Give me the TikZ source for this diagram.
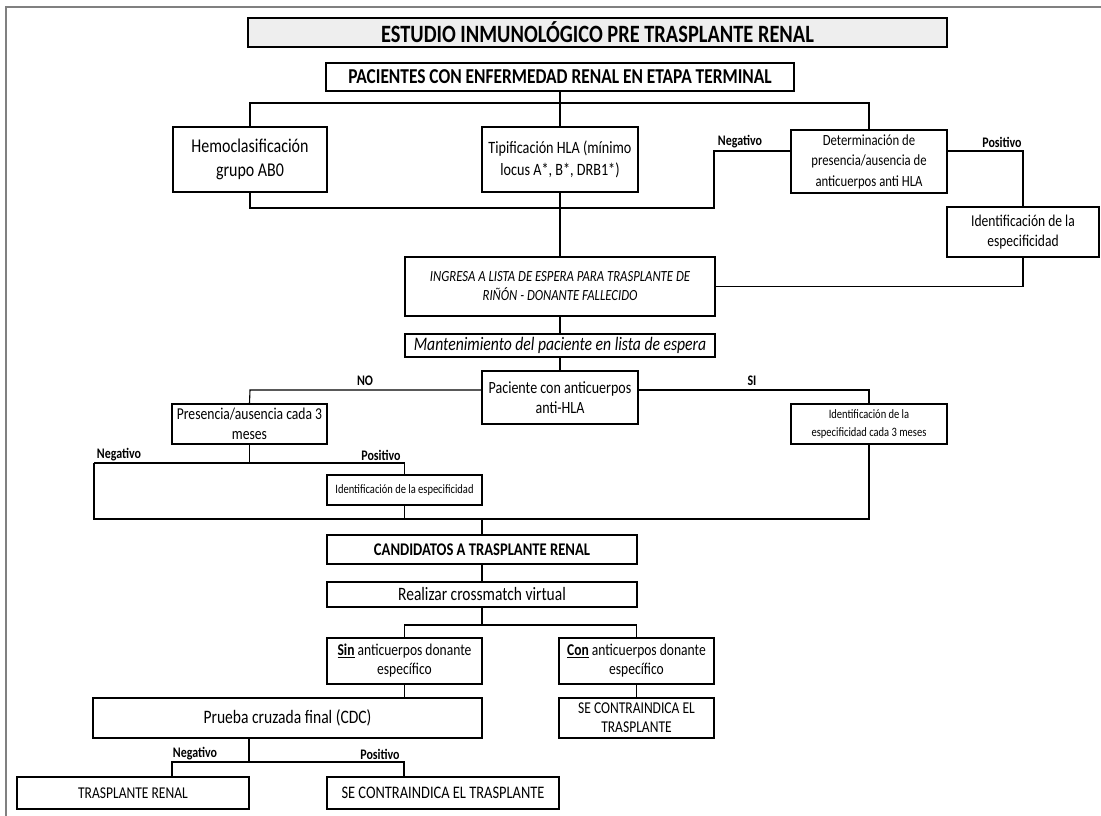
\documentclass[tikz,border=0pt]{standalone}
\usepackage{fontspec}
\setmainfont[FakeStretch=0.82]{Carlito}
\tikzset{
  box/.style={draw=black, line width=1.1pt, inner sep=0pt, align=center},
  conn/.style={draw=black, line width=1.1pt},
  lab/.style={font=\bfseries\fontsize{14.6}{16}\selectfont, inner sep=0pt},
}
\newcommand\bx[7][]{%
  \node[box,#1,minimum width={(#5-#3)*1pt},minimum height={(#6-#4)*1pt}] (#2) at ({(#3+#5)/2},{(#4+#6)/2}) {#7};}
\begin{document}
\begin{tikzpicture}[x=1pt,y=-1pt]
\useasboundingbox (0,0) rectangle (1101,816);
% frame
\draw[gray, line width=2pt] (6,830) -- (6,7) -- (1110,7);
% boxes
\bx[fill=gray!13, line width=2.6pt, font=\bfseries\fontsize{24.9}{28}\selectfont]{title}{248}{18}{947}{47}{ESTUDIO INMUNOLÓGICO PRE TRASPLANTE RENAL}
\bx[font=\bfseries\fontsize{21.2}{24}\selectfont]{pac}{326}{63}{794}{91}{PACIENTES CON ENFERMEDAD RENAL EN ETAPA TERMINAL}
\bx[font=\fontsize{19.5}{24}\selectfont]{hemo}{173}{127}{327}{192}{Hemoclasificación\\grupo AB0}
\bx[font=\fontsize{17.3}{22}\selectfont]{tip}{482}{127}{638}{192}{Tipificación HLA (mínimo\\locus A*, B*, DRB1*)}
\bx[font=\fontsize{15.5}{20.5}\selectfont]{det}{791}{130}{947}{193}{Determinación de\\presencia/ausencia de\\anticuerpos anti HLA}
\bx[font=\fontsize{16.5}{20}\selectfont]{ide1}{947}{207}{1099}{257}{Identificación de la\\especificidad}
\bx[font=\itshape\fontsize{15.5}{19}\selectfont]{ing}{405}{257}{715}{316}{INGRESA A LISTA DE ESPERA PARA TRASPLANTE DE\\RIÑÓN - DONANTE FALLECIDO}
\bx[font=\itshape\fontsize{19.1}{22}\selectfont]{man}{405}{334}{715}{357}{Mantenimiento del paciente en lista de espera}
\bx[font=\fontsize{17.1}{20}\selectfont]{pca}{482}{371}{638}{424}{Paciente con anticuerpos\\anti-HLA}
\bx[font=\fontsize{16.6}{20}\selectfont]{pres}{172}{404}{327}{444}{Presencia/ausencia cada 3\\meses}
\bx[font=\fontsize{12.8}{18}\selectfont]{ide2}{791}{404}{947}{444}{Identificación de la\\especificidad cada 3 meses}
\bx[font=\fontsize{12.8}{14}\selectfont]{ide3}{327}{475}{482}{505}{Identificación de la especificidad}
\bx[font=\bfseries\fontsize{17.8}{20}\selectfont]{cand}{327}{535}{637}{564}{CANDIDATOS A TRASPLANTE RENAL}
\bx[font=\fontsize{18.9}{21}\selectfont]{real}{327}{582}{637}{607}{Realizar crossmatch virtual}
\bx[font=\fontsize{16.5}{19}\selectfont]{sin}{327}{638}{482}{684}{\underline{\textbf{Sin}} anticuerpos donante\\específico}
\bx[font=\fontsize{16.5}{19}\selectfont]{con}{559}{638}{714}{684}{\underline{\textbf{Con}} anticuerpos donante\\específico}
\bx[font=\fontsize{19}{22}\selectfont]{prue}{93}{698}{482}{738}{Prueba cruzada final (CDC)}
\bx[font=\fontsize{16.5}{19}\selectfont]{contra1}{559}{698}{714}{738}{SE CONTRAINDICA EL\\TRASPLANTE}
\bx[font=\fontsize{16.5}{19}\selectfont]{tr}{17}{777}{249}{809}{TRASPLANTE RENAL}
\bx[font=\fontsize{17.6}{20}\selectfont]{contra2}{327}{777}{559}{809}{SE CONTRAINDICA EL TRASPLANTE}
% junction coordinates
\coordinate (j1) at (560,103);
\coordinate (nb) at (714,208);
\coordinate (nt) at (714,151);
\coordinate (pt) at (1023,151);
\coordinate (noc) at (250,390);
\coordinate (nl) at (94,463);
\coordinate (pl) at (404.5,463);
\coordinate (bl) at (94,519);
\coordinate (br) at (869,519);
\coordinate (sc) at (482,625);
\coordinate (pj) at (249,762);
\coordinate (nq) at (172,762);
\coordinate (pq) at (404,762);
% connectors
\draw[conn] (pac.south) -- (j1);
\draw[conn] (hemo.north) |- (j1) -| (det.north);
\draw[conn] (j1) -- (tip.north);
\draw[conn] (hemo.south) |- (nb) -- (nt) -- (nt -| det.west);
\draw[conn] (nt -| det.east) -- (pt) -- (ide1.north);
\draw[conn] (ide1.south) |- (ing.east);
\draw[conn] (tip.south) -- (ing.north);
\draw[conn] (ing.south) -- (man.north);
\draw[conn] (man.south) -- (pca.north);
\draw[conn] (pca.west |- noc) -- (noc) -- (pres.north);
\draw[conn] (pca.east |- noc) -| (ide2.north);
\draw[conn] (pres.south) -- (pres.south |- nl);
\draw[conn] (nl) -- (pl) -- (ide3.north);
\draw[conn] (nl) -- (bl) -- (br) -- (ide2.south);
\draw[conn] (ide3.south) -- (ide3.south |- bl);
\draw[conn] (cand.north |- bl) -- (cand.north);
\draw[conn] (cand.south) -- (real.north);
\draw[conn] (real.south) -- (sc);
\draw[conn] (sin.north) |- (sc) -| (con.north);
\draw[conn] (sin.south) -- (sin.south |- prue.north);
\draw[conn] (con.south) -- (contra1.north);
\draw[conn] (pj |- prue.south) -- (pj);
\draw[conn] (nq |- tr.north) -- (nq) -- (pq) -- (pq |- contra2.north);
% labels
\node[lab] (l1) at (740,142) {Negativo};
\node[lab] (l2) at (1002,142) {Positivo};
\node[lab] (l3) at (365,381) {NO};
\node[lab] (l4) at (752,381) {SI};
\node[lab] (l5) at (119,455) {Negativo};
\node[lab] (l6) at (381,455) {Positivo};
\node[lab] (l7) at (195,754) {Negativo};
\node[lab] (l8) at (380,754) {Positivo};
\end{tikzpicture}
\end{document}
